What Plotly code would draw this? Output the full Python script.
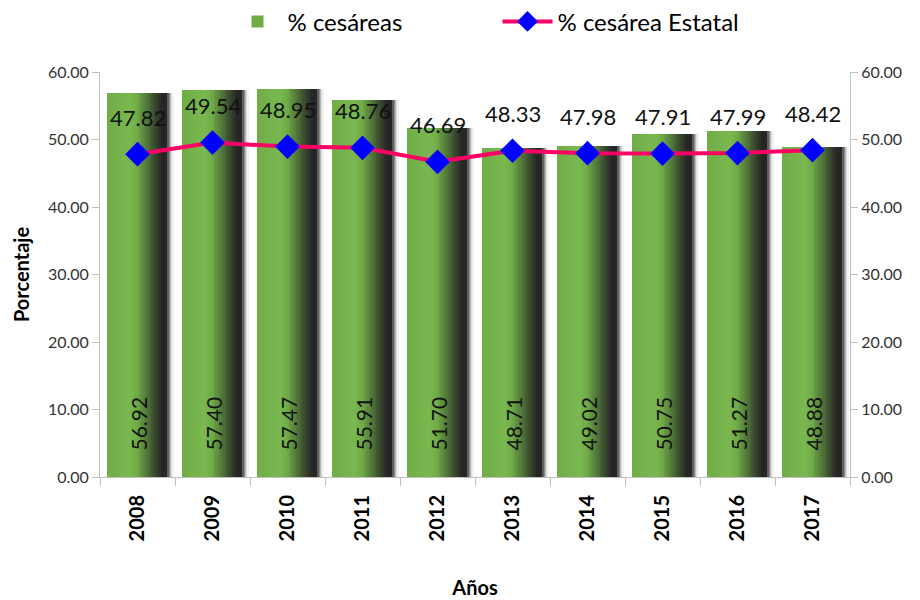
import plotly.graph_objects as go

years = ["2008", "2009", "2010", "2011", "2012", "2013", "2014", "2015", "2016", "2017"]
cesareas = [56.92, 57.40, 57.47, 55.91, 51.70, 48.71, 49.02, 50.75, 51.27, 48.88]
estatal = [47.82, 49.54, 48.95, 48.76, 46.69, 48.33, 47.98, 47.91, 47.99, 48.42]
y_ticks = [0, 10, 20, 30, 40, 50, 60]

GREEN = (112, 173, 71)
LIGHT = (122, 184, 80)
DARK = (38, 38, 38)


def mix(a, b, t):
    return tuple(round(a[i] + (b[i] - a[i]) * t) for i in range(3))


def slice_color(t):
    if t < 0.38:
        c = mix(GREEN, LIGHT, t / 0.38)
    elif t < 0.5:
        c = mix(LIGHT, GREEN, (t - 0.38) / 0.12)
    elif t < 0.92:
        c = mix(GREEN, DARK, (t - 0.5) / 0.42)
    else:
        c = DARK
    return "rgb(%d,%d,%d)" % c


fig = go.Figure()

bar_left, bar_right = -0.397, 0.389
N = 32
sw = (bar_right - bar_left) / N
shadow_cols = [(60, 60, 60), (95, 95, 95), (140, 140, 140), (185, 185, 185), (220, 220, 220), (242, 242, 242)]
ssw = 0.0165
n = len(years)
for j, c in enumerate(shadow_cols):
    fig.add_trace(go.Bar(
        x=years, y=cesareas, width=[ssw] * n,
        offset=[bar_right + j * ssw] * n,
        marker=dict(color="rgb(%d,%d,%d)" % c, line=dict(width=0)),
        showlegend=False, hoverinfo="skip"))
for i in range(N):
    t = (i + 0.5) / N
    fig.add_trace(go.Bar(
        x=years, y=cesareas, width=[sw * 1.08] * n,
        offset=[bar_left + i * sw] * n,
        marker=dict(color=slice_color(t), line=dict(width=0)),
        name="% cesáreas", showlegend=(i == 0), legendgroup="ces",
        hoverinfo="skip"))

fig.add_trace(go.Scatter(
    x=years, y=estatal, mode="lines+markers", name="% cesárea Estatal",
    line=dict(color="#FF0066", width=4),
    marker=dict(symbol="diamond", size=19, color="#0000FF", line=dict(width=0)),
    yaxis="y2"))

for idx, v in enumerate(estatal):
    fig.add_annotation(x=idx, y=v, xref="x", yref="y2", text="%.2f" % v,
                       showarrow=False, yshift=37,
                       font=dict(size=22, color="#111111", family="Lato"))
for idx, v in enumerate(cesareas):
    fig.add_annotation(x=idx, y=0, xref="x", yref="y", text="%.2f" % v,
                       showarrow=False, textangle=-90, yanchor="bottom",
                       yshift=24, font=dict(size=21, color="#111111", family="Lato"))


def yaxis_style():
    return dict(range=[0, 60], tickvals=y_ticks,
                ticktext=["%.2f" % v for v in y_ticks],
                showgrid=False, zeroline=False, showline=True,
                linecolor="#BFBFBF", linewidth=1, ticks="outside",
                tickcolor="#BFBFBF", ticklen=7, automargin=False,
                tickfont=dict(size=16, color="#333333", family="Lato"))


fig.update_layout(
    width=920, height=600,
    margin=dict(l=92, r=78, t=64, b=131),
    plot_bgcolor="white", paper_bgcolor="white",
    barmode="overlay", bargap=0,
    font=dict(family="Lato", color="#000000"),
    legend=dict(orientation="h", x=0.53, xanchor="center", y=0.977,
                yref="container", yanchor="middle",
                font=dict(size=24, color="#000000", family="Lato"),
                itemwidth=50, entrywidth=205),
    xaxis=dict(type="category", categoryorder="array", categoryarray=years,
               range=[-0.5, n - 0.5], automargin=False,
               showline=True, linecolor="#BFBFBF",
               ticks="outside", tickson="boundaries", tickcolor="#BFBFBF",
               ticklen=8, tickangle=-90, showgrid=False, ticklabelstandoff=9,
               tickfont=dict(size=20, color="#000000", family="Lato", weight="bold"),
               title=dict(text="Años", standoff=40,
                          font=dict(size=20, color="#000000", family="Lato", weight="bold"))),
    yaxis=dict(**yaxis_style(),
               title=dict(text="Porcentaje", standoff=12,
                          font=dict(size=20, color="#000000", family="Lato", weight="bold"))),
    yaxis2=dict(**yaxis_style(), overlaying="y", side="right"),
)

fig.write_html("out.html")
